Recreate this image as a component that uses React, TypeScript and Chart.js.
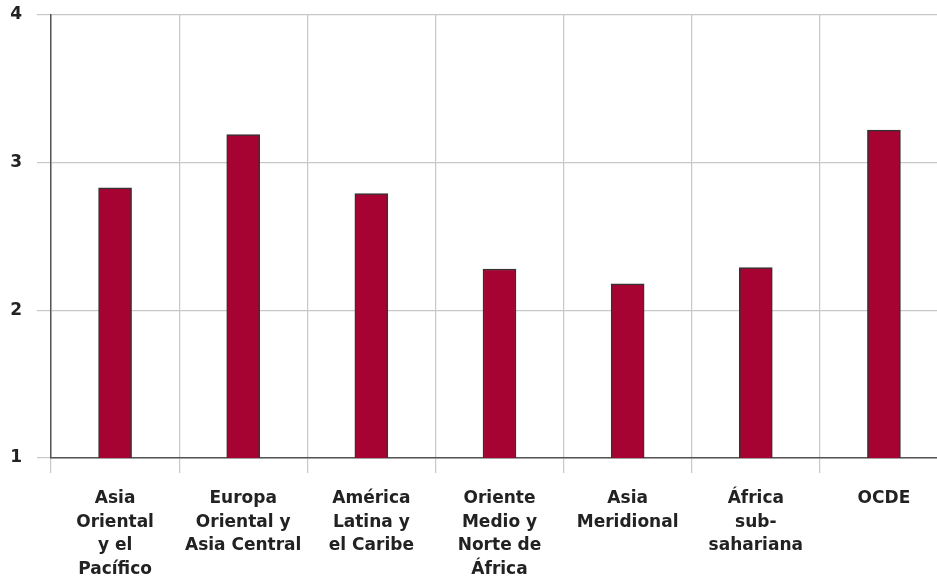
import React, { useEffect, useRef } from "react";
import { Chart, registerables } from "chart.js";

Chart.register(...registerables);

const categories: string[][] = [
  ["Asia", "Oriental", "y el", "Pacífico"],
  ["Europa", "Oriental y", "Asia Central"],
  ["América", "Latina y", "el Caribe"],
  ["Oriente", "Medio y", "Norte de", "África"],
  ["Asia", "Meridional"],
  ["África", "sub-", "sahariana"],
  ["OCDE"],
];

const values: number[] = [2.83, 3.19, 2.79, 2.28, 2.18, 2.29, 3.22];

const yTicks: number[] = [1, 2, 3, 4];

export default function App() {
  const ref = useRef<HTMLCanvasElement>(null);

  useEffect(() => {
    document.body.style.margin = "0";
    const canvas = ref.current;
    if (!canvas) return;
    const font = { family: "'DejaVu Sans', sans-serif", size: 17, weight: "bold" as const, lineHeight: 1.38 };
    const chart = new Chart(canvas, {
      type: "bar",
      data: {
        labels: categories,
        datasets: [
          {
            data: values,
            backgroundColor: "#A60232",
            borderColor: "#333333",
            borderWidth: 1.5,
            barThickness: 33,
          },
        ],
      },
      options: {
        animation: false,
        responsive: false,
        devicePixelRatio: 1,
        layout: { padding: { top: 15, right: 2, left: 0, bottom: 0 } },
        plugins: { legend: { display: false }, tooltip: { enabled: false } },
        scales: {
          x: {
            grid: {
              offset: true,
              color: "#c8c8c8",
              lineWidth: 1.2,
              tickLength: 15,
              drawTicks: true,
            },
            border: { color: "#555555", width: 1.5 },
            ticks: {
              color: "#222222",
              font,
              padding: 14,
              maxRotation: 0,
              autoSkip: false,
            },
            afterFit: (s: any) => {
              s.height = 120;
              s.paddingLeft = 0;
              s.paddingRight = 0;
            },
          },
          y: {
            min: 1,
            max: 4,
            afterBuildTicks: (s: any) => {
              s.ticks = yTicks.map((v) => ({ value: v }));
            },
            grid: {
              color: "#c8c8c8",
              lineWidth: 1.2,
              tickLength: 14,
            },
            border: { color: "#555555", width: 1.5 },
            ticks: {
              color: "#222222",
              font,
              padding: 15,
            },
            afterFit: (s: any) => {
              s.width = 51;
              s.paddingTop = 0;
              s.paddingBottom = 0;
            },
          },
        },
      },
    });
    return () => chart.destroy();
  }, []);

  return (
    <div style={{ width: 937, height: 578, overflow: "hidden", position: "relative" }}>
      <canvas ref={ref} width={950} height={578} style={{ display: "block" }} />
    </div>
  );
}
